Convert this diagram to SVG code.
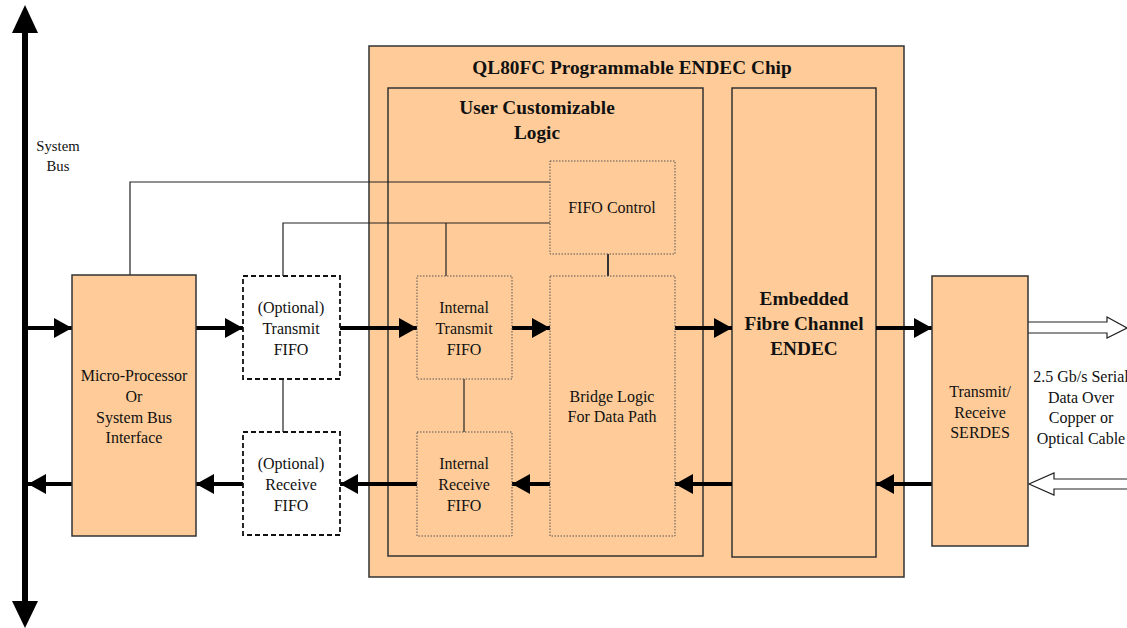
<svg xmlns="http://www.w3.org/2000/svg" width="1127" height="628" viewBox="0 0 1127 628">
<defs>
<style>
text{font-family:"Liberation Serif","Times New Roman",serif;font-size:16px;fill:#111;text-anchor:middle}
.b{font-weight:bold;font-size:19.3px}
.sb{font-size:14.7px}
.box{fill:#FFCC99;stroke:#333;stroke-width:1.5}
.dash{fill:#fff;stroke:#111;stroke-width:1.8;stroke-dasharray:5,3}
.dot{fill:#FFCC99;stroke:#555;stroke-width:1;stroke-dasharray:1.5,1.5}
.thin{fill:none;stroke:#222;stroke-width:1.2}
.flow{fill:none;stroke:#000;stroke-width:4;marker-end:url(#ah)}
.hollow{fill:#fff;stroke:#222;stroke-width:1.2}
</style>
<marker id="ah" markerUnits="userSpaceOnUse" markerWidth="18" markerHeight="22" viewBox="0 0 18 22" refX="18" refY="11" orient="auto">
<path d="M0,1 L18,11 L0,21 Z" fill="#000"/>
</marker>
</defs>
<rect width="1127" height="628" fill="#fff"/>

<g id="system-bus">
<line x1="25" y1="30" x2="25" y2="603" stroke="#000" stroke-width="6"/>
<path d="M25,5 L38,33 L12,33 Z" fill="#000"/>
<path d="M25,628 L38,601 L12,601 Z" fill="#000"/>
<text class="sb" x="58" y="151">System</text>
<text class="sb" x="58" y="171">Bus</text>
</g>

<g id="chip">
<rect class="box" x="369" y="46" width="535" height="531"/>
<text class="b" x="632" y="74">QL80FC Programmable ENDEC Chip</text>
</g>

<g id="user-logic">
<rect class="box" x="388" y="88" width="315" height="468"/>
<text class="b" x="537" y="114">User Customizable</text>
<text class="b" x="537" y="139">Logic</text>
</g>

<g id="endec">
<rect class="box" x="732" y="88" width="144" height="469"/>
<text class="b" x="804" y="305">Embedded</text>
<text class="b" x="804" y="330">Fibre Channel</text>
<text class="b" x="804" y="355">ENDEC</text>
</g>

<g id="connectors">
<polyline class="thin" points="130,275 130,182 550,182"/>
<polyline class="thin" points="283,276 283,223 550,223"/>
<line class="thin" x1="446" y1="223" x2="446" y2="276"/>
<line x1="608" y1="254" x2="608" y2="276" stroke="#333" stroke-width="2"/>
<line class="thin" x1="464" y1="379" x2="464" y2="432"/>
<line class="thin" x1="283" y1="379" x2="283" y2="432"/>

<line class="flow" x1="28" y1="328" x2="72" y2="328"/>
<line class="flow" x1="196" y1="328" x2="243" y2="328"/>
<line class="flow" x1="340" y1="328" x2="417" y2="328"/>
<line class="flow" x1="512" y1="328" x2="550" y2="328"/>
<line class="flow" x1="675" y1="328" x2="732" y2="328"/>
<line class="flow" x1="876" y1="328" x2="932" y2="328"/>

<line class="flow" x1="932" y1="484" x2="876" y2="484"/>
<line class="flow" x1="732" y1="484" x2="675" y2="484"/>
<line class="flow" x1="550" y1="484" x2="512" y2="484"/>
<line class="flow" x1="417" y1="484" x2="340" y2="484"/>
<line class="flow" x1="243" y1="484" x2="196" y2="484"/>
<line class="flow" x1="72" y1="484" x2="28" y2="484"/>

<path class="hollow" d="M1028,322 L1107,322 L1107,317 L1127,328 L1107,338 L1107,333 L1028,333"/>
<path class="hollow" d="M1127,479 L1054,479 L1054,473 L1029,484 L1054,495 L1054,489 L1127,489"/>
</g>

<g id="micro-processor">
<rect class="box" x="72" y="275" width="124" height="261"/>
<text x="134" y="381">Micro-Processor</text>
<text x="134" y="402">Or</text>
<text x="134" y="423">System Bus</text>
<text x="134" y="443">Interface</text>
</g>

<g id="optional-tx-fifo">
<rect class="dash" x="243" y="276" width="97" height="103"/>
<text x="291" y="313">(Optional)</text>
<text x="291" y="334">Transmit</text>
<text x="291" y="355">FIFO</text>
</g>

<g id="optional-rx-fifo">
<rect class="dash" x="243" y="432" width="97" height="103"/>
<text x="291" y="469">(Optional)</text>
<text x="291" y="490">Receive</text>
<text x="291" y="511">FIFO</text>
</g>

<g id="fifo-control">
<rect class="dot" x="550" y="161" width="125" height="93"/>
<text x="612" y="213">FIFO Control</text>
</g>

<g id="internal-tx-fifo">
<rect class="dot" x="417" y="276" width="95" height="103"/>
<text x="464" y="313">Internal</text>
<text x="464" y="334">Transmit</text>
<text x="464" y="355">FIFO</text>
</g>

<g id="internal-rx-fifo">
<rect class="dot" x="417" y="432" width="95" height="104"/>
<text x="464" y="469">Internal</text>
<text x="464" y="490">Receive</text>
<text x="464" y="511">FIFO</text>
</g>

<g id="bridge-logic">
<rect class="dot" x="550" y="276" width="125" height="260"/>
<text x="612" y="402">Bridge Logic</text>
<text x="612" y="422">For Data Path</text>
</g>

<g id="serdes">
<rect class="box" x="932" y="276" width="96" height="270"/>
<text x="980" y="397">Transmit/</text>
<text x="980" y="418">Receive</text>
<text x="980" y="438">SERDES</text>
</g>

<g id="cable-label">
<text x="1081" y="382">2.5 Gb/s Serial</text>
<text x="1081" y="403">Data Over</text>
<text x="1081" y="423">Copper or</text>
<text x="1081" y="444">Optical Cable</text>
</g>
</svg>
